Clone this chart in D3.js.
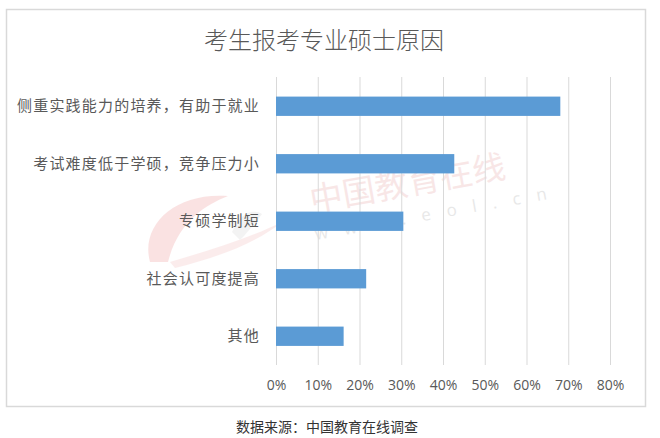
<!DOCTYPE html>
<html>
<head>
<meta charset="utf-8">
<script src="https://cdn.jsdelivr.net/npm/d3@7/dist/d3.min.js"></script>
<style>
  html, body { margin: 0; padding: 0; background: #fff; }
  svg { display: block; }
</style>
</head>
<body>
<svg id="chart" width="660" height="438"></svg>
<script>
const title = "考生报考专业硕士原因";
const source = "数据来源：中国教育在线调查";
const categories = [
  "侧重实践能力的培养，有助于就业",
  "考试难度低于学硕，竞争压力小",
  "专硕学制短",
  "社会认可度提高",
  "其他"
];
const values = [0.681, 0.427, 0.305, 0.216, 0.162];
const tickValues = [0, 0.1, 0.2, 0.3, 0.4, 0.5, 0.6, 0.7, 0.8];

const svg = d3.select("#chart");
const cjk = "'Noto Sans CJK SC', 'Microsoft YaHei', sans-serif";
const latin = "'Open Sans', 'Noto Sans', sans-serif";

// frame
svg.append("rect")
  .attr("x", 6.5).attr("y", 9.5).attr("width", 639).attr("height", 397)
  .attr("fill", "#fff").attr("stroke", "#d9d9d9").attr("stroke-width", 1.5);

const x = d3.scaleLinear().domain([0, 0.8]).range([276, 610]);
const y = d3.scaleBand().domain(categories).range([77.5, 365])
  .paddingInner(0.664).paddingOuter(0.332);

// watermark
const wm = svg.append("g").attr("class", "watermark");
const arc = wm.append("g").attr("opacity", 0.14);
arc.append("path")
  .attr("d", "M150,262 C140,225 175,192 228,196 C205,205 178,222 168,262 Z")
  .attr("fill", "#e03a3a");
arc.append("path")
  .attr("d", "M170,262 C210,250 250,238 282,222 C255,244 215,258 175,268 Z")
  .attr("fill", "#e88080");
arc.append("path")
  .attr("d", "M232,232 C240,214 252,208 262,214 C256,222 248,232 240,240 Z")
  .attr("fill", "#b0b0b0");
wm.append("text")
  .attr("transform", "translate(312,212) rotate(-10)")
  .attr("font-family", cjk).attr("font-size", 33).attr("font-weight", 400)
  .attr("fill", "#eab0b0").attr("opacity", 0.3)
  .text("中国教育在线");
wm.append("text")
  .attr("transform", "translate(316,240) rotate(-10)")
  .attr("font-family", latin).attr("font-size", 17)
  .attr("letter-spacing", 16)
  .attr("fill", "#bdbdbd").attr("opacity", 0.35)
  .text("www.eol.cn");

// gridlines
svg.append("g")
  .attr("transform", "translate(0,77)")
  .call(d3.axisTop(x).tickValues(tickValues).tickSize(-(365 - 77)).tickFormat(""))
  .call(g => g.select(".domain").remove())
  .call(g => g.selectAll(".tick line").attr("stroke", "#d9d9d9").attr("stroke-width", 1));

// bars
svg.append("g").selectAll("rect")
  .data(categories)
  .join("rect")
  .attr("x", x(0))
  .attr("y", d => y(d))
  .attr("width", (d, i) => x(values[i]) - x(0))
  .attr("height", y.bandwidth())
  .attr("fill", "#5b9bd5");

// x axis labels
svg.append("g")
  .attr("transform", "translate(0,365)")
  .call(d3.axisBottom(x).tickValues(tickValues).tickSize(0).tickPadding(15).tickFormat(d3.format(".0%")))
  .call(g => g.select(".domain").remove())
  .call(g => g.selectAll("text")
    .attr("font-family", latin).attr("font-size", 14).attr("fill", "#595959"));

// y axis labels
svg.append("g")
  .attr("transform", "translate(276,0)")
  .call(d3.axisLeft(y).tickSize(0).tickPadding(16))
  .call(g => g.select(".domain").remove())
  .call(g => g.selectAll("text")
    .attr("font-family", cjk).attr("font-size", 15).attr("letter-spacing", 1.2)
    .attr("fill", "#595959"));

// title
svg.append("text")
  .attr("x", 324).attr("y", 49)
  .attr("text-anchor", "middle")
  .attr("font-family", cjk).attr("font-size", 24).attr("font-weight", 300)
  .attr("fill", "#595959")
  .text(title);

// source
svg.append("text")
  .attr("x", 327).attr("y", 432)
  .attr("text-anchor", "middle")
  .attr("font-family", cjk).attr("font-size", 14)
  .attr("fill", "#333")
  .text(source);
</script>
</body>
</html>
